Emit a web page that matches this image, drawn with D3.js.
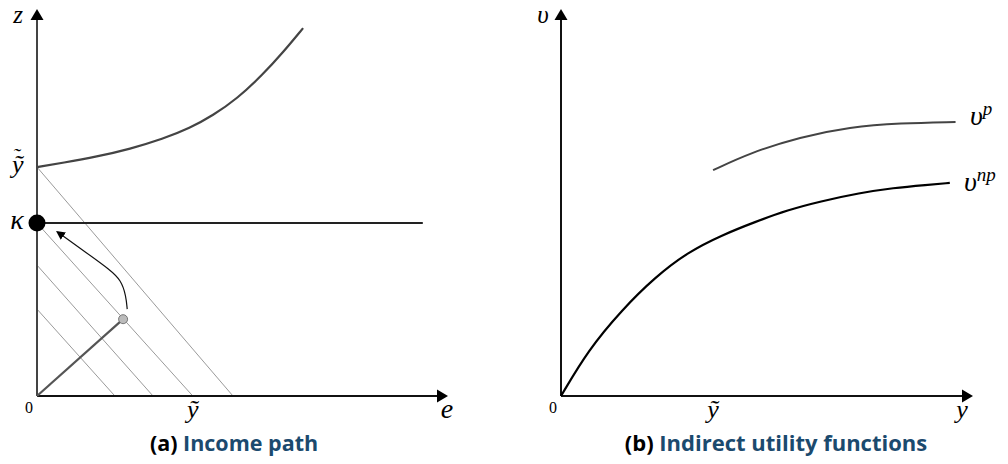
<!DOCTYPE html>
<html><head><meta charset="utf-8">
<script src="https://cdn.jsdelivr.net/npm/d3@7"></script>
<style>
body{margin:0;background:#fff;}
svg{display:block;}
.math{font-family:"Liberation Serif","Times New Roman",serif;font-style:italic;}
.num{font-family:"Liberation Serif","Times New Roman",serif;}
.cap{font-family:"Open Sans","Noto Sans",sans-serif;font-weight:700;}
</style></head><body>
<svg id="c" width="1008" height="464"></svg>
<script>
// ---- Panel (a): Income path (e on x, z on y) ----
const aTicksX = [{v:0,t:"0"},{v:3.8,t:"ỹ"}];
const aTicksY = [{v:5.93,t:"ỹ"},{v:4.48,t:"κ"}];
const aKappa = 4.48, aKappaEnd = 9.41;
const aCurve = [[0,5.93],[0.63,6.04],[1.46,6.2],[2.27,6.4],[3.07,6.66],[3.73,6.94],[4.29,7.27],[4.88,7.7],[5.51,8.33],[6.0,8.9],[6.49,9.53]];
const aHatchZ = [5.93,4.48,3.39,2.25];   // intercepts on z axis
const aHatchE = [4.78,3.8,2.83,1.9];     // intercepts on e axis
const aDot = [2.1,1.99];
const aArrow = [[2.2,2.25],[2.17,2.6],[2.05,3.0],[1.78,3.27],[1.22,3.7],[0.5,4.25]];
// ---- Panel (b): Indirect utility functions ----
const bTicksX = [{v:0,t:"0"},{v:3.7,t:"ỹ"}];
const bNP = [[0,0],[0.66,1.19],[1.48,2.23],[2.29,3.08],[3.09,3.73],[3.92,4.17],[4.72,4.51],[5.52,4.82],[6.3,5.04],[7.27,5.26],[8.08,5.39],[8.9,5.47],[9.46,5.52]];
const bP = [[3.7,5.85],[4.6,6.3],[5.82,6.71],[7.03,6.97],[8.25,7.07],[9.6,7.1]];

const svg = d3.select("#c");

function tri(g, x, y, dir, col){
  const p = dir==='up' ? [[x,y],[x-6.5,y+11],[x+6.5,y+11]] : [[x,y],[x-11,y-6.5],[x-11,y+6.5]];
  g.append("path").attr("d","M"+p.map(q=>q.join(",")).join("L")+"Z").attr("fill",col);
}

// ---------- Panel a ----------
{
  const x = d3.scaleLinear().domain([0,10]).range([37,447]);
  const y = d3.scaleLinear().domain([0,10]).range([396,10]);
  const g = svg.append("g");
  aHatchZ.forEach((z,i)=>{
    g.append("line").attr("x1",x(0)).attr("y1",y(z)).attr("x2",x(aHatchE[i])).attr("y2",y(0))
      .attr("stroke","#555").attr("stroke-width",0.6);
  });
  g.append("line").attr("x1",x(0)).attr("y1",y(0)).attr("x2",x(10)-8).attr("y2",y(0)).attr("stroke","#111").attr("stroke-width",2);
  g.append("line").attr("x1",x(0)).attr("y1",y(0)).attr("x2",x(0)).attr("y2",y(10)+8).attr("stroke","#444").attr("stroke-width",2);
  tri(g,x(10)+1,y(0),'right',"#000");
  tri(g,x(0),y(10)-1,'up',"#000");
  g.append("line").attr("x1",x(0)).attr("y1",y(aKappa)).attr("x2",x(aKappaEnd)).attr("y2",y(aKappa)).attr("stroke","#222").attr("stroke-width",2);
  const line = d3.line().x(d=>x(d[0])).y(d=>y(d[1])).curve(d3.curveBasis);
  g.append("path").attr("d",line(aCurve)).attr("fill","none").attr("stroke","#444").attr("stroke-width",2.2);
  g.append("line").attr("x1",x(0)).attr("y1",y(0)).attr("x2",x(aDot[0])).attr("y2",y(aDot[1])).attr("stroke","#555").attr("stroke-width",2.2);
  const aline = d3.line().x(d=>x(d[0])).y(d=>y(d[1])).curve(d3.curveBasis);
  svg.append("defs").append("marker").attr("id","ah").attr("viewBox","0 0 10 10").attr("refX",8).attr("refY",5)
    .attr("markerWidth",9).attr("markerHeight",9).attr("markerUnits","userSpaceOnUse").attr("orient","auto")
    .append("path").attr("d","M0,0L10,5L0,10Z").attr("fill","#000");
  g.append("path").attr("d",aline(aArrow)).attr("fill","none").attr("stroke","#111").attr("stroke-width",1.2).attr("marker-end","url(#ah)");
  g.append("circle").attr("cx",x(aDot[0])).attr("cy",y(aDot[1])).attr("r",4.5).attr("fill","#bbb").attr("stroke","#777").attr("stroke-width",1);
  g.append("circle").attr("cx",x(0)).attr("cy",y(aKappa)).attr("r",8.5).attr("fill","#000");
  // labels
  g.append("text").attr("class","num").attr("x",x(0)-8).attr("y",y(0)+17).attr("font-size",16).attr("text-anchor","middle").text(aTicksX[0].t);
  g.append("text").attr("class","math").attr("x",x(aTicksX[1].v)).attr("y",y(0)+22).attr("font-size",26).attr("text-anchor","middle").text(aTicksX[1].t);
  g.append("text").attr("class","math").attr("x",x(10)).attr("y",y(0)+22).attr("font-size",28).attr("text-anchor","middle").text("e");
  g.append("text").attr("class","math").attr("x",18).attr("y",23).attr("font-size",25).attr("text-anchor","middle").text("z");
  const yt = g.append("text").attr("class","math").attr("x",12).attr("y",y(aTicksY[0].v)+6).attr("font-size",26);
  yt.append("tspan").text(aTicksY[0].t);
  yt.append("tspan").attr("dx",-11).attr("dy",-10).attr("font-size",22).text("˜");
  g.append("text").attr("class","math").attr("x",17).attr("y",y(aTicksY[1].v)+6).attr("font-size",28).attr("text-anchor","middle").text(aTicksY[1].t);
  const t = g.append("text").attr("class","cap").attr("font-size",21.5).attr("x",234).attr("y",451).attr("text-anchor","middle");
  t.append("tspan").attr("fill","#000").text("(a) ");
  t.append("tspan").attr("fill","#1b4a6e").text("Income path");
}

// ---------- Panel b ----------
{
  const x = d3.scaleLinear().domain([0,10]).range([561,972]);
  const y = d3.scaleLinear().domain([0,10]).range([396,10]);
  const g = svg.append("g");
  g.append("line").attr("x1",x(0)).attr("y1",y(0)).attr("x2",x(10)-8).attr("y2",y(0)).attr("stroke","#111").attr("stroke-width",2);
  g.append("line").attr("x1",x(0)).attr("y1",y(0)).attr("x2",x(0)).attr("y2",y(10)+8).attr("stroke","#111").attr("stroke-width",2);
  tri(g,x(10)+1,y(0),'right',"#000");
  tri(g,x(0),y(10)-1,'up',"#000");
  const line = d3.line().x(d=>x(d[0])).y(d=>y(d[1])).curve(d3.curveBasis);
  g.append("path").attr("d",line(bNP)).attr("fill","none").attr("stroke","#000").attr("stroke-width",2.2);
  g.append("path").attr("d",line(bP)).attr("fill","none").attr("stroke","#444").attr("stroke-width",2);
  g.append("text").attr("class","num").attr("x",x(0)-8).attr("y",y(0)+17).attr("font-size",16).attr("text-anchor","middle").text(bTicksX[0].t);
  g.append("text").attr("class","math").attr("x",x(bTicksX[1].v)).attr("y",y(0)+22).attr("font-size",26).attr("text-anchor","middle").text(bTicksX[1].t);
  g.append("text").attr("class","math").attr("x",x(10)-10).attr("y",y(0)+22).attr("font-size",26).attr("text-anchor","middle").text("y");
  g.append("text").attr("class","math").attr("x",543).attr("y",23).attr("font-size",25).attr("text-anchor","middle").text("υ");
  const lp = g.append("text").attr("class","math").attr("x",970).attr("y",125).attr("font-size",28);
  lp.append("tspan").text("υ");
  lp.append("tspan").attr("font-size",19).attr("dy",-10).text("p");
  const lnp = g.append("text").attr("class","math").attr("x",964).attr("y",191).attr("font-size",28);
  lnp.append("tspan").text("υ");
  lnp.append("tspan").attr("font-size",19).attr("dy",-10).text("np");
  const t = g.append("text").attr("class","cap").attr("font-size",22).attr("x",776).attr("y",451).attr("text-anchor","middle");
  t.append("tspan").attr("fill","#000").text("(b) ");
  t.append("tspan").attr("fill","#1b4a6e").text("Indirect utility functions");
}
</script>
</body></html>
